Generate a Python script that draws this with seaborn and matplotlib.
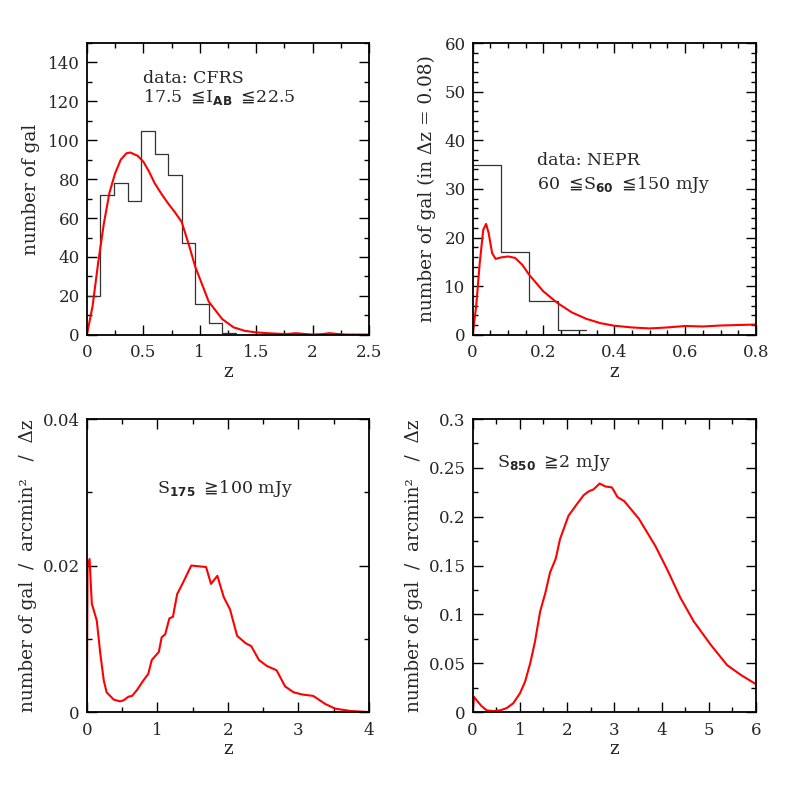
import matplotlib
matplotlib.use("Agg")
import matplotlib.pyplot as plt
from matplotlib.ticker import MultipleLocator
import seaborn as sns
import numpy as np
import pandas as pd

# --- data ---
# top-left: CFRS histogram (bin width 0.12) and model curve
cfrs_edges = [0, 0.12, 0.24, 0.36, 0.48, 0.60, 0.72, 0.84, 0.96, 1.08, 1.20, 1.32]
cfrs_counts = [20, 72, 78, 69, 105, 93, 82, 47, 16, 6, 1]
cfrs_z = [0, 0.05, 0.10, 0.12, 0.15, 0.20, 0.25, 0.30, 0.35, 0.385, 0.45, 0.50, 0.55,
          0.60, 0.66, 0.72, 0.78, 0.84, 0.90, 0.96, 1.00, 1.08, 1.20, 1.30, 1.40, 1.50,
          1.60, 1.70, 1.78, 1.85, 1.93, 2.00, 2.08, 2.15, 2.22, 2.30, 2.50]
cfrs_n = [0, 14.5, 37, 45, 57, 73, 83, 90, 93.3, 93.7, 92, 89, 84,
          78, 72.5, 67.5, 63, 58, 47, 35, 29, 17, 8, 3.8, 2, 1.2,
          0.8, 0.5, 0.4, 0.8, 0.4, 0.1, 0.3, 0.8, 0.4, 0.1, 0.1]

# top-right: NEPR histogram (bin width 0.08) and model curve
nepr_edges = [0, 0.08, 0.16, 0.24, 0.32]
nepr_counts = [35, 17, 7, 1]
nepr_z = [0, 0.01, 0.02, 0.03, 0.038, 0.045, 0.055, 0.065, 0.08, 0.10, 0.12, 0.14,
          0.16, 0.20, 0.24, 0.28, 0.32, 0.36, 0.40, 0.45, 0.50, 0.55, 0.60, 0.65,
          0.70, 0.75, 0.80]
nepr_n = [0, 5.8, 14.7, 21.6, 22.8, 21, 16.8, 15.6, 15.9, 16.1, 15.8, 14.4,
          12.3, 8.9, 6.5, 4.6, 3.3, 2.4, 1.85, 1.5, 1.3, 1.5, 1.8, 1.7,
          1.9, 2.0, 2.1]

# bottom-left: S175 >= 100 mJy
s175_z = [0, 0.01, 0.038, 0.07, 0.14, 0.19, 0.24, 0.28, 0.38, 0.47, 0.52, 0.59, 0.64,
          0.71, 0.80, 0.87, 0.92, 1.02, 1.06, 1.11, 1.17, 1.22, 1.28, 1.37, 1.48,
          1.69, 1.76, 1.85, 1.94, 2.03, 2.13, 2.25, 2.33, 2.44, 2.55, 2.69, 2.81,
          2.93, 3.05, 3.21, 3.38, 3.52, 3.74, 4.0]
s175_n = [0, 0.0200, 0.0209, 0.0148, 0.0125, 0.0080, 0.0043, 0.0027, 0.0017, 0.00146,
          0.0016, 0.0021, 0.0022, 0.0030, 0.0043, 0.0052, 0.0071, 0.0082, 0.0102,
          0.0106, 0.0128, 0.0130, 0.0161, 0.0178, 0.0200, 0.0198, 0.0175, 0.0186,
          0.0157, 0.0140, 0.0104, 0.0094, 0.0090, 0.0071, 0.0063, 0.0057, 0.0035,
          0.0027, 0.0024, 0.0022, 0.0011, 0.00046, 0.00014, 0]

# bottom-right: S850 >= 2 mJy
s850_z = [0, 0.03, 0.085, 0.19, 0.30, 0.44, 0.58, 0.72, 0.86, 1.00, 1.11, 1.22, 1.32,
          1.43, 1.54, 1.64, 1.76, 1.85, 2.03, 2.21, 2.35, 2.46, 2.56, 2.69, 2.81,
          2.95, 3.07, 3.21, 3.52, 3.87, 4.12, 4.40, 4.68, 5.04, 5.39, 5.68, 6.0]
s850_n = [0, 0.0155, 0.012, 0.006, 0.0017, 0.001, 0.0017, 0.004, 0.009, 0.019, 0.031,
          0.050, 0.072, 0.103, 0.122, 0.143, 0.157, 0.177, 0.201, 0.213, 0.222,
          0.226, 0.228, 0.234, 0.231, 0.230, 0.220, 0.216, 0.198, 0.170, 0.146,
          0.117, 0.093, 0.069, 0.048, 0.038, 0.0285]

# --- style ---
sns.set_theme(style="ticks")
plt.rcParams['font.family'] = ['DejaVu Serif', 'DejaVu Sans']
plt.rcParams['mathtext.fontset'] = 'dejavusans'
plt.rcParams['font.size'] = 12

RED = "#ff0000"
HIST = "#333333"
TXT = 12.5
LAB = 13.3


def style_axes(ax, xlim, ylim, xmaj, xmin, ymaj, ymin):
    ax.set_xlim(xlim)
    ax.set_ylim(ylim)
    ax.xaxis.set_major_locator(MultipleLocator(xmaj))
    ax.xaxis.set_minor_locator(MultipleLocator(xmin))
    ax.yaxis.set_major_locator(MultipleLocator(ymaj))
    ax.yaxis.set_minor_locator(MultipleLocator(ymin))
    ax.tick_params(which="both", direction="in", top=True, right=True,
                   labelsize=12, width=1.0, color="black")
    ax.tick_params(axis="x", which="major", pad=7)
    ax.tick_params(axis="y", which="major", pad=5)
    ax.tick_params(which="major", length=7)
    ax.tick_params(which="minor", length=3.5)
    for s in ax.spines.values():
        s.set_linewidth(1.3)
        s.set_color("black")
    ax.xaxis.set_major_formatter(plt.FuncFormatter(lambda v, p: f"{v:g}"))
    ax.yaxis.set_major_formatter(plt.FuncFormatter(lambda v, p: f"{v:g}"))


def draw_hist(ax, edges, counts):
    centers = [(a + b) / 2 for a, b in zip(edges[:-1], edges[1:])]
    sns.histplot(x=centers, weights=counts, bins=edges, element="step",
                 fill=False, color=HIST, linewidth=0.9, ax=ax)


def draw_curve(ax, z, n):
    df = pd.DataFrame({"z": z, "n": n})
    sns.lineplot(data=df, x="z", y="n", color=RED, linewidth=1.5,
                 estimator=None, sort=False, ax=ax)


fig = plt.figure(figsize=(7.97, 7.97), dpi=100)

ax1 = fig.add_axes([0.109, 0.580, 0.354, 0.366])
ax2 = fig.add_axes([0.593, 0.580, 0.3555, 0.366])
ax3 = fig.add_axes([0.109, 0.1066, 0.354, 0.3676])
ax4 = fig.add_axes([0.593, 0.1066, 0.3555, 0.3676])

# top-left
draw_hist(ax1, cfrs_edges, cfrs_counts)
draw_curve(ax1, cfrs_z, cfrs_n)
style_axes(ax1, (0, 2.5), (0, 150), 0.5, 0.25, 20, 10)
ax1.set_xlabel("z", fontsize=LAB, labelpad=1)
ax1.set_ylabel("number of gal", fontsize=LAB, labelpad=6)
ax1.text(0.199, 0.880, "data: CFRS", transform=ax1.transAxes, fontsize=TXT,
         va="center")
ax1.text(0.199, 0.816, r"17.5 $\leqq\!$I$_{\mathbf{AB}}$ $\leqq\!$22.5",
         transform=ax1.transAxes, fontsize=TXT, va="center")

# top-right
draw_hist(ax2, nepr_edges, nepr_counts)
draw_curve(ax2, nepr_z, nepr_n)
style_axes(ax2, (0, 0.8), (0, 60), 0.2, 0.05, 10, 2)
ax2.set_xlabel("z", fontsize=LAB, labelpad=1)
ax2.set_ylabel("number of gal (in Δz = 0.08)", fontsize=LAB, labelpad=6)
ax2.text(0.228, 0.599, "data: NEPR", transform=ax2.transAxes, fontsize=TXT,
         va="center")
ax2.text(0.228, 0.514, r"60 $\leqq\!$S$_{\mathbf{60}}$ $\leqq\!$150 mJy",
         transform=ax2.transAxes, fontsize=TXT, va="center")

# bottom-left
draw_curve(ax3, s175_z, s175_n)
style_axes(ax3, (0, 4), (0, 0.04), 1, 0.5, 0.02, 0.01)
ax3.set_xlabel("z", fontsize=LAB, labelpad=1)
ax3.set_ylabel("number of gal  /  arcmin²   /  Δz", fontsize=LAB, labelpad=4)
ax3.text(0.247, 0.763, r"S$_{\mathbf{175}}$ $\geqq\!$100 mJy",
         transform=ax3.transAxes, fontsize=TXT, va="center")

# bottom-right
draw_curve(ax4, s850_z, s850_n)
style_axes(ax4, (0, 6), (0, 0.3), 1, 0.5, 0.05, 0.025)
ax4.set_xlabel("z", fontsize=LAB, labelpad=1)
ax4.set_ylabel("number of gal  /  arcmin²   /  Δz", fontsize=LAB, labelpad=4)
ax4.text(0.085, 0.85, r"S$_{\mathbf{850}}$ $\geqq\!$2 mJy",
         transform=ax4.transAxes, fontsize=TXT, va="center")

fig.savefig("out.png", dpi=100)
